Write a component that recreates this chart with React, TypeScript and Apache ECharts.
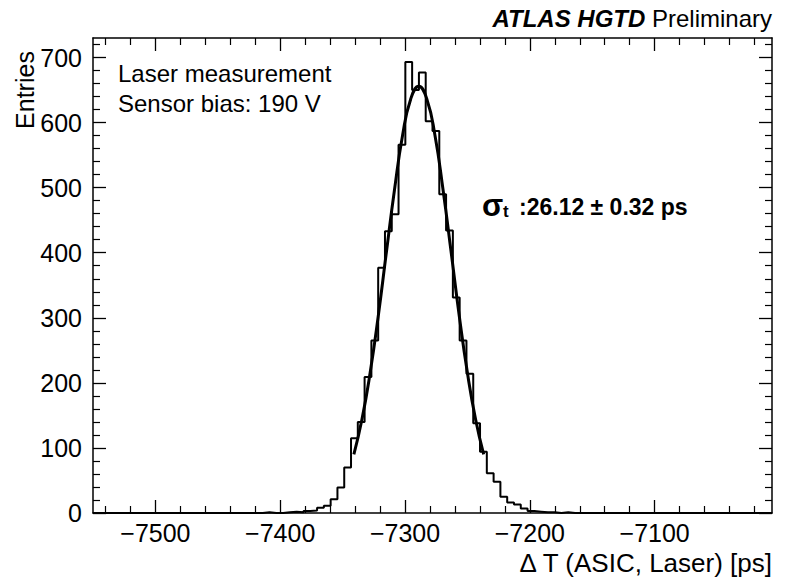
import React, { useEffect, useRef } from "react";
import * as echarts from "echarts";

// ---- axis ranges ----
const X_MIN = -7550;
const X_MAX = -7006;
const Y_MIN = 0;
const Y_MAX = 730;

// ---- histogram: 100 bins from X_MIN to X_MAX (entries per bin) ----
const binValues = [
  0, 0, 0, 0, 0, 0, 0, 0, 0, 0,
  0, 0, 0, 0, 0, 0, 0, 0, 0, 0,
  0, 0, 0, 0, 0, 1, 0, 0, 1, 2,
  1, 3, 4, 8, 11, 21, 39, 70, 115, 140,
  209, 265, 377, 433, 459, 566, 693, 650, 677, 602,
  587, 490, 434, 331, 265, 214, 138, 94, 61, 48,
  25, 16, 13, 7, 3, 2, 1, 1, 0, 1,
  0, 0, 0, 0, 0, 0, 0, 0, 0, 0,
  0, 0, 0, 0, 0, 0, 0, 0, 0, 0,
  0, 0, 0, 0, 0, 0, 0, 0, 0, 0,
];

// ---- Gaussian fit curve ----
const fitX = [
  -7341, -7334.5, -7328, -7321.5, -7315, -7308.5, -7302, -7295.5, -7289,
  -7282.5, -7276, -7269.5, -7263, -7256.5, -7250, -7243.5, -7237,
];
const fitY = [
  90, 144, 215, 302, 400, 496, 580, 636, 656,
  636, 580, 496, 400, 302, 215, 144, 90,
];

// ---- ticks ----
const xMajorTicks = [-7500, -7400, -7300, -7200, -7100];
const xMinorTicks = [
  -7540, -7520, -7480, -7460, -7440, -7420, -7380, -7360, -7340, -7320,
  -7280, -7260, -7240, -7220, -7180, -7160, -7140, -7120, -7080, -7060,
  -7040, -7020,
];
const yMajorTicks = [0, 100, 200, 300, 400, 500, 600, 700];
const yMinorTicks = [
  20, 40, 60, 80, 120, 140, 160, 180, 220, 240, 260, 280, 320, 340, 360, 380,
  420, 440, 460, 480, 520, 540, 560, 580, 620, 640, 660, 680, 720,
];

// ---- texts ----
const titleBold = "ATLAS HGTD";
const titleRegular = "Preliminary";
const infoLines = ["Laser measurement", "Sensor bias: 190 V"];
const sigmaSymbol = "σ";
const sigmaSub = "t";
const sigmaValue = ":26.12 ± 0.32 ps";
const xTitle = "Δ T (ASIC, Laser) [ps]";
const yTitle = "Entries";

const FONT = '"Liberation Sans", Arial, Helvetica, sans-serif';

const G = { left: 93, top: 38, width: 679, height: 475 };

export default function App() {
  const ref = useRef<HTMLDivElement>(null);

  useEffect(() => {
    if (!ref.current) return;
    const chart = echarts.init(ref.current, undefined, { renderer: "svg" });

    const binWidth = (X_MAX - X_MIN) / binValues.length;
    const histData: number[][] = binValues.map((v, i) => [X_MIN + i * binWidth, v]);
    histData.push([X_MAX, binValues[binValues.length - 1]]);
    const fitData = fitX.map((x, i) => [x, fitY[i]]);

    const fmt = (v: number) => String(v).replace("-", "\u2212");
    const black = "#000";

    const majorX = (pos: string, labels: boolean) => ({
      gridIndex: 0,
      type: "value",
      position: pos,
      min: X_MIN,
      max: X_MAX,
      axisLine: { show: true, onZero: false, lineStyle: { color: black, width: 1.5 } },
      axisTick: { show: true, inside: true, length: 13, customValues: xMajorTicks, lineStyle: { color: black, width: 1.3 } },
      axisLabel: {
        show: labels,
        customValues: xMajorTicks,
        formatter: fmt,
        color: black,
        fontSize: 25,
        fontFamily: FONT,
        margin: 7,
      },
      splitLine: { show: false },
    });
    const minorX = (pos: string) => ({
      gridIndex: 1,
      type: "value",
      position: pos,
      min: X_MIN,
      max: X_MAX,
      axisLine: { show: false, onZero: false },
      axisTick: { show: true, inside: true, length: 7, customValues: xMinorTicks, lineStyle: { color: black, width: 1.2 } },
      axisLabel: { show: false },
      splitLine: { show: false },
    });
    const majorY = (pos: string, labels: boolean) => ({
      gridIndex: 0,
      type: "value",
      position: pos,
      min: Y_MIN,
      max: Y_MAX,
      axisLine: { show: true, onZero: false, lineStyle: { color: black, width: 1.5 } },
      axisTick: { show: true, inside: true, length: 13, customValues: yMajorTicks, lineStyle: { color: black, width: 1.3 } },
      axisLabel: {
        show: labels,
        customValues: yMajorTicks,
        color: black,
        fontSize: 25,
        fontFamily: FONT,
        margin: 11,
      },
      splitLine: { show: false },
    });
    const minorY = (pos: string) => ({
      gridIndex: 1,
      type: "value",
      position: pos,
      min: Y_MIN,
      max: Y_MAX,
      axisLine: { show: false, onZero: false },
      axisTick: { show: true, inside: true, length: 7, customValues: yMinorTicks, lineStyle: { color: black, width: 1.2 } },
      axisLabel: { show: false },
      splitLine: { show: false },
    });

    const textStyle = (text: string, font: string, align: string) => ({
      text,
      font,
      fill: black,
      align,
      verticalAlign: "middle",
      textAlign: align,
      textVerticalAlign: "middle",
    });

    const option: any = {
      animation: false,
      backgroundColor: "#fff",
      grid: [
        { ...G, containLabel: false },
        { ...G, containLabel: false },
      ],
      xAxis: [majorX("bottom", true), majorX("top", false), minorX("bottom"), minorX("top")],
      yAxis: [majorY("left", true), majorY("right", false), minorY("left"), minorY("right")],
      series: [
        {
          type: "line",
          xAxisIndex: 0,
          yAxisIndex: 0,
          data: histData,
          step: "end",
          symbol: "none",
          showSymbol: false,
          lineStyle: { color: black, width: 2 },
          z: 3,
        },
        {
          type: "line",
          xAxisIndex: 0,
          yAxisIndex: 0,
          data: fitData,
          smooth: true,
          symbol: "none",
          showSymbol: false,
          lineStyle: { color: black, width: 3 },
          z: 4,
        },
      ],
      graphic: [
        {
          type: "text",
          x: 772,
          y: 18,
          style: {
            text: `{a|${titleBold}}{b| ${titleRegular}}`,
            rich: {
              a: { fontFamily: FONT, fontSize: 24, fontWeight: "bold", fontStyle: "italic", fill: black },
              b: { fontFamily: FONT, fontSize: 24, fill: black },
            },
            align: "right",
            verticalAlign: "middle",
            textAlign: "right",
            textVerticalAlign: "middle",
          },
        },
        ...infoLines.map((t, i) => ({
          type: "text",
          x: 118,
          y: 73 + i * 30,
          style: textStyle(t, `24px ${FONT}`, "left"),
        })),
        { type: "text", x: 482, y: 205, style: textStyle(sigmaSymbol, `bold 31px ${FONT}`, "left") },
        { type: "text", x: 503, y: 211, style: textStyle(sigmaSub, `bold 17px ${FONT}`, "left") },
        { type: "text", x: 519, y: 207, style: textStyle(sigmaValue, `bold 23px ${FONT}`, "left") },
        { type: "text", x: 772, y: 563, style: textStyle(xTitle, `26px ${FONT}`, "right") },
        {
          type: "text",
          x: 25,
          y: 90,
          rotation: Math.PI / 2,
          style: textStyle(yTitle, `25px ${FONT}`, "center"),
        },
      ],
    };

    chart.setOption(option);
    return () => chart.dispose();
  }, []);

  return (
    <div
      ref={ref}
      style={{ position: "fixed", left: 0, top: 0, width: 787, height: 581, background: "#fff" }}
    />
  );
}
